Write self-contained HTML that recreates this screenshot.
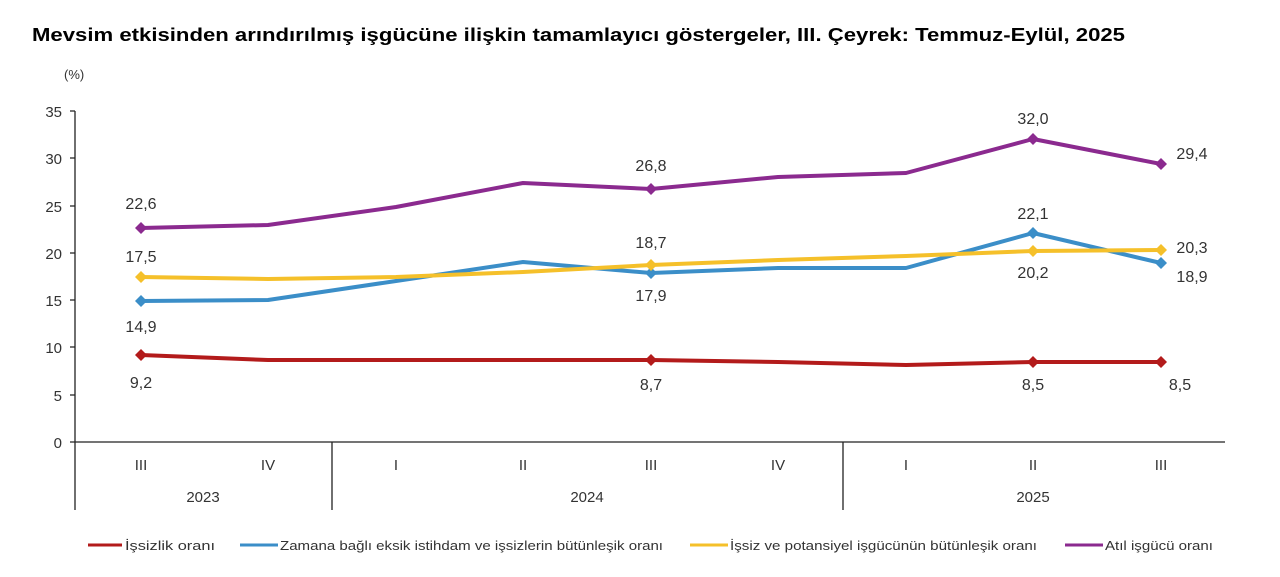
<!DOCTYPE html><html><head><style>body{margin:0;background:#fff}svg{display:block;font-family:"Liberation Sans",Arial,sans-serif}</style></head><body>
<svg width="1280" height="577" viewBox="0 0 1280 577">
<text x="32" y="41" font-size="18" font-weight="bold" fill="#000" textLength="1093" lengthAdjust="spacingAndGlyphs">Mevsim etkisinden arındırılmış işgücüne ilişkin tamamlayıcı göstergeler, III. Çeyrek: Temmuz-Eylül, 2025</text>
<text x="64" y="79" font-size="13" fill="#333">(%)</text>
<g stroke="#222" stroke-width="1.3" fill="none">
<path d="M75 111V510M332 442V510M843 442V510M75 442H1225"/>
<path d="M70 111H75M70 158H75M70 206H75M70 253H75M70 300H75M70 347H75M70 395H75M70 442H75"/>
</g>
<g font-size="15" fill="#333" text-anchor="end">
<text x="62" y="117">35</text><text x="62" y="164">30</text><text x="62" y="212">25</text><text x="62" y="259">20</text><text x="62" y="306">15</text><text x="62" y="353">10</text><text x="62" y="401">5</text><text x="62" y="448">0</text>
</g>
<g font-size="15" fill="#333" text-anchor="middle">
<text x="141" y="470">III</text><text x="268" y="470">IV</text><text x="396" y="470">I</text><text x="523" y="470">II</text><text x="651" y="470">III</text><text x="778" y="470">IV</text><text x="906" y="470">I</text><text x="1033" y="470">II</text><text x="1161" y="470">III</text>
<text x="203" y="502">2023</text><text x="587" y="502">2024</text><text x="1033" y="502">2025</text>
</g>
<g fill="none" stroke-width="4" stroke-linejoin="round">
<polyline stroke="#8b2a8f" points="141,228 268,225 396,207 523,183 651,189 778,177 906,173 1033,139 1161,164"/>
<polyline stroke="#3b8ec8" points="141,301 268,300 396,281 523,262 651,273 778,268 906,268 1033,233 1161,263"/>
<polyline stroke="#f5c02a" points="141,277 268,279 396,277 523,272 651,265 778,260 906,256 1033,251 1161,250"/>
<polyline stroke="#b31b1b" points="141,355 268,360 396,360 523,360 651,360 778,362 906,365 1033,362 1161,362"/>
</g>
<g>
<g fill="#8b2a8f"><path d="M141 222l6 6-6 6-6-6z"/><path d="M651 183l6 6-6 6-6-6z"/><path d="M1033 133l6 6-6 6-6-6z"/><path d="M1161 158l6 6-6 6-6-6z"/></g>
<g fill="#3b8ec8"><path d="M141 295l6 6-6 6-6-6z"/><path d="M651 267l6 6-6 6-6-6z"/><path d="M1033 227l6 6-6 6-6-6z"/><path d="M1161 257l6 6-6 6-6-6z"/></g>
<g fill="#f5c02a"><path d="M141 271l6 6-6 6-6-6z"/><path d="M651 259l6 6-6 6-6-6z"/><path d="M1033 245l6 6-6 6-6-6z"/><path d="M1161 244l6 6-6 6-6-6z"/></g>
<g fill="#b31b1b"><path d="M141 349l6 6-6 6-6-6z"/><path d="M651 354l6 6-6 6-6-6z"/><path d="M1033 356l6 6-6 6-6-6z"/><path d="M1161 356l6 6-6 6-6-6z"/></g>
</g>
<g font-size="16" fill="#333" text-anchor="middle">
<text x="141" y="209">22,6</text><text x="141" y="262">17,5</text><text x="141" y="332">14,9</text><text x="141" y="388">9,2</text>
<text x="651" y="171">26,8</text><text x="651" y="248">18,7</text><text x="651" y="301">17,9</text><text x="651" y="390">8,7</text>
<text x="1033" y="124">32,0</text><text x="1033" y="219">22,1</text><text x="1033" y="278">20,2</text><text x="1033" y="390">8,5</text>
<text x="1192" y="159">29,4</text><text x="1192" y="253">20,3</text><text x="1192" y="282">18,9</text><text x="1180" y="390">8,5</text>
</g>
<g font-size="13" fill="#333">
<line x1="88" y1="545" x2="122" y2="545" stroke="#b31b1b" stroke-width="3"/><text x="125" y="550" textLength="90" lengthAdjust="spacingAndGlyphs">İşsizlik oranı</text>
<line x1="240" y1="545" x2="278" y2="545" stroke="#3b8ec8" stroke-width="3"/><text x="280" y="550" textLength="383" lengthAdjust="spacingAndGlyphs">Zamana bağlı eksik istihdam ve işsizlerin bütünleşik oranı</text>
<line x1="690" y1="545" x2="728" y2="545" stroke="#f5c02a" stroke-width="3"/><text x="730" y="550" textLength="307" lengthAdjust="spacingAndGlyphs">İşsiz ve potansiyel işgücünün bütünleşik oranı</text>
<line x1="1065" y1="545" x2="1103" y2="545" stroke="#8b2a8f" stroke-width="3"/><text x="1105" y="550" textLength="108" lengthAdjust="spacingAndGlyphs">Atıl işgücü oranı</text>
</g>
</svg></body></html>
